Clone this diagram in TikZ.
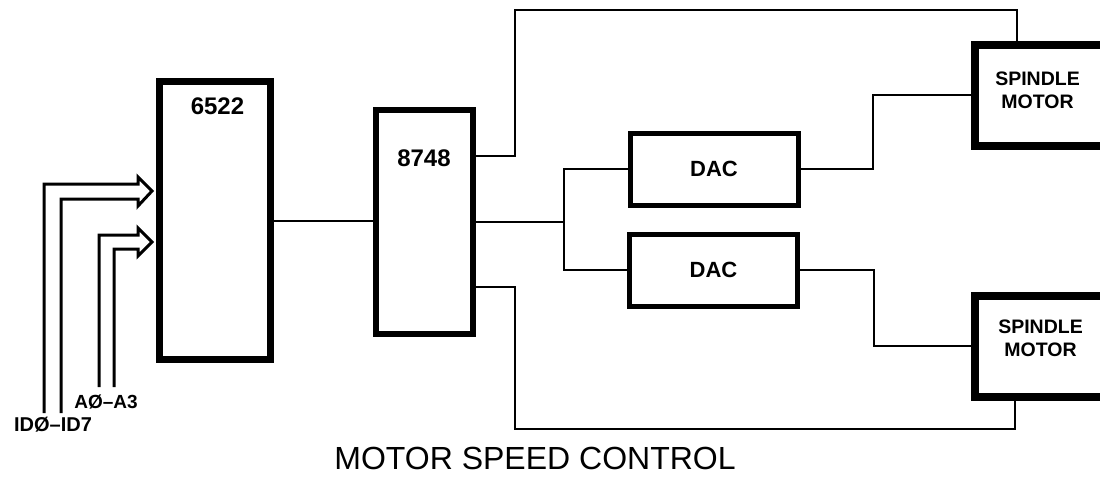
\documentclass[tikz,border=0pt]{standalone}
\usepackage{fontspec}
\setmainfont{Liberation Sans}
\usetikzlibrary{positioning}

\begin{document}
\begin{tikzpicture}[
  x=1pt, y=-1pt,
  chip/.style={draw, line width=6pt, inner sep=0pt},
  lbl/.style={font=\fontsize{24}{28}\selectfont\bfseries},
  dac/.style={chip, line width=5pt, minimum width=168pt, minimum height=72pt,
              font=\fontsize{22}{26}\selectfont\bfseries},
  motor/.style={chip, line width=8pt, minimum width=145pt, minimum height=101pt},
  mlbl/.style={font=\fontsize{19.5}{23}\selectfont\bfseries, align=center},
  wire/.style={draw, line width=2pt},
  bus/.style={draw, line width=3pt, line join=miter},
  buslbl/.style={font=\fontsize{19}{22}\selectfont\bfseries}
]
\useasboundingbox (0,0) rectangle (1100,477);
% blocks
\node[chip, line width=7pt, minimum width=111pt, minimum height=278pt,
      label={[lbl, anchor=center, xshift=3pt, yshift=-29pt]north:6522}]
      (pia) at (214.5,220) {};
\node[chip, minimum width=97pt, minimum height=224pt,
      label={[lbl, anchor=center, yshift=-51.5pt]north:8748}]
      (mcu) at (424,221.5) {};
\node[dac] (dacA) at (714,169) {DAC};
\node[dac] (dacB) at (713.5,270) {DAC};
\node[motor, label={[mlbl, anchor=center, xshift=-10pt, yshift=5pt]center:SPINDLE\\MOTOR}]
      (motorA) at (1047.5,95) {};
\node[motor, label={[mlbl, anchor=center, xshift=-7pt, yshift=8pt]center:SPINDLE\\MOTOR}]
      (motorB) at (1047.5,346) {};
% input buses
\node[buslbl] (busA) at (106,402) {AØ–A3};
\node[buslbl, font=\fontsize{20}{22}\selectfont\bfseries] (busD) at (53,425) {IDØ–ID7};
\coordinate (d0) at (44,413);
\coordinate (d7) at (61,413);
\coordinate (a0) at (99,387);
\coordinate (a3) at (114,387);
\draw[bus] (d0) |- (138,184) -- (138,177) -- ([xshift=-3.5pt, yshift=29pt]pia.west)
  -- (138,206) -- (138,199) -| (d7);
\draw[bus] (a0) |- (138,235) -- (138,228) -- ([xshift=-3.5pt, yshift=-22pt]pia.west)
  -- (138,256) -- (138,249) -| (a3);
% wiring
\coordinate (topRun) at (515,9.5);
\coordinate (botRun) at (515,429);
\draw[wire] (pia.east |- 0,221) -- (mcu.west |- 0,221);
\draw[wire] ([yshift=65.5pt]mcu.east) -| (topRun) -| ([xshift=-30.5pt]motorA.north);
\draw[wire] ([yshift=-65.5pt]mcu.east) -| (botRun) -| ([xshift=-32.5pt]motorB.south);
\draw[wire] (mcu.east) -- ++(88.5,0) coordinate (split);
\draw[wire] (dacA.west) -| (split) |- (dacB.west);
\draw[wire] (dacA.east) -- ++(72.5,0) |- (motorA.west);
\draw[wire] (dacB.east) -- ++(73.5,0) |- (motorB.west);
% caption
\node[font=\fontsize{32}{36}\selectfont] (title) at (535,458) {MOTOR SPEED CONTROL};
\end{tikzpicture}
\end{document}
